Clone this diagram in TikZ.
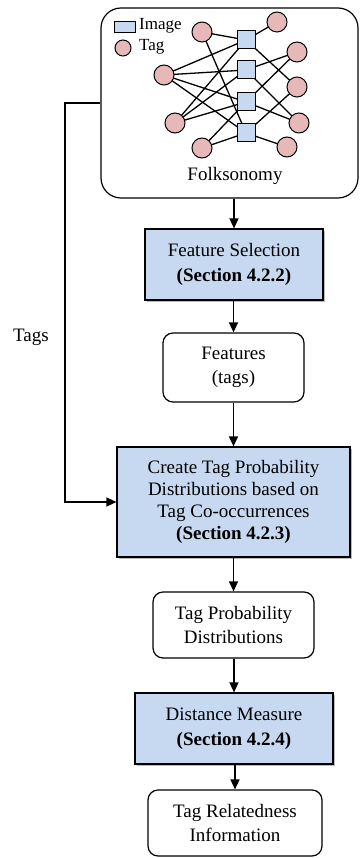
\documentclass[tikz,border=0pt]{standalone}
\usepackage{fontspec}
\setmainfont{Liberation Serif}
\usetikzlibrary{arrows.meta,shadows,backgrounds}
\definecolor{procblue}{RGB}{198,217,241}
\definecolor{tagpink}{RGB}{230,185,184}
\tikzset{
  every node/.style={font=\fontsize{19}{24.5}\selectfont},
  link/.style={line width=1.3pt},
  flow/.style={line width=1.4pt,-{Triangle[length=10pt,width=9pt]}},
  procbox/.style={draw,line width=1.2pt,fill=procblue,align=center,inner sep=0pt,
    drop shadow={shadow xshift=1.8pt,shadow yshift=-1.8pt,fill=black!45,opacity=.6}},
  databox/.style={draw,line width=1.2pt,fill=white,rounded corners=10pt,align=center,inner sep=0pt},
  tagnode/.style={circle,draw,line width=1pt,fill=tagpink,minimum size=20pt,inner sep=0pt},
  imgnode/.style={rectangle,draw,line width=1pt,fill=procblue,minimum size=18pt,inner sep=0pt},
  legendtext/.style={anchor=west,inner sep=0pt,font=\fontsize{17}{20}\selectfont},
}
\begin{document}
\begin{tikzpicture}[x=1pt,y=-1pt]
\useasboundingbox (0,0) rectangle (362,858);

% folksonomy container
\node[draw,line width=1.2pt,rounded corners=20pt,minimum width=257pt,minimum height=190pt,inner sep=0pt] (folk) at (229.5,103) {};
\node (folklabel) at (235,176) {Folksonomy};

% legend
\node[imgnode,minimum width=21pt,minimum height=11pt] (legimg) at (124.5,27.5) {};
\node[legendtext] (legimgtxt) at (139,26) {Image};
\node[tagnode,minimum size=16pt] (legtag) at (123,48) {};
\node[legendtext] (legtagtxt) at (139,47) {Tag};

% tag-image network
\node[tagnode] (l1) at (202,32) {};
\node[tagnode] (l2) at (164,75) {};
\node[tagnode] (l3) at (175,123) {};
\node[tagnode] (l4) at (202,148) {};
\node[imgnode] (s1) at (246,40) {};
\node[imgnode] (s2) at (246,70) {};
\node[imgnode] (s3) at (246,102) {};
\node[imgnode] (s4) at (246,133) {};
\node[tagnode] (r1) at (277,22) {};
\node[tagnode] (r2) at (297,52) {};
\node[tagnode] (r3) at (297,87) {};
\node[tagnode] (r4) at (299,123) {};
\node[tagnode] (r5) at (287,147) {};

\begin{scope}[on background layer]
\foreach \a/\b in {l1/s1,l1/s4,l2/s1,l2/s2,l2/s3,l2/s4,l3/s1,l3/s2,l3/s3,l4/s3,l4/s4,
                   s1/r1,s1/r3,s2/r2,s2/r4,s3/r2,s3/r4,s4/r3,s4/r5}
  \draw[link] (\a.center) -- (\b.center);
\end{scope}

% processing chain
\node[procbox,minimum width=178pt,minimum height=71pt] (fs) at (234,264.5)
  {Feature Selection\\\textbf{(Section 4.2.2)}};
\node[databox,minimum width=141pt,minimum height=69pt] (feat) at (233.5,367.5)
  {Features\\(tags)};
\node[procbox,minimum width=233pt,minimum height=110pt,font=\fontsize{19}{22}\selectfont] (ctp) at (233.5,502)
  {Create Tag Probability\\Distributions based on\\Tag Co-occurrences\\\textbf{(Section 4.2.3)}};
\node[databox,minimum width=161pt,minimum height=66pt] (tpd) at (233.5,625)
  {Tag Probability\\Distributions};
\node[procbox,minimum width=198pt,minimum height=71pt] (dm) at (234,728.5)
  {Distance Measure\\\textbf{(Section 4.2.4)}};
\node[databox,minimum width=174pt,minimum height=66pt] (tri) at (235,823)
  {Tag Relatedness\\Information};

\draw[flow] (folk.south -| fs.north) -- (fs.north);
\draw[flow] (fs.south -| feat.north) -- (feat.north);
\draw[flow] (feat) -- (ctp);
\draw[flow] (ctp.south -| tpd.north) -- (tpd.north);
\draw[flow] (tpd.south -| dm.north) -- (dm.north);
\draw[flow] (dm.south -| tri.north) -- (tri.north);

% tags bypass
\coordinate (bendtop) at (65,103);
\coordinate (bendbot) at (65,502);
\draw[flow] (folk.west) -- (bendtop) -- (bendbot) -- (ctp.west);
\node (tagslabel) at (31,337) {Tags};
\end{tikzpicture}
\end{document}
